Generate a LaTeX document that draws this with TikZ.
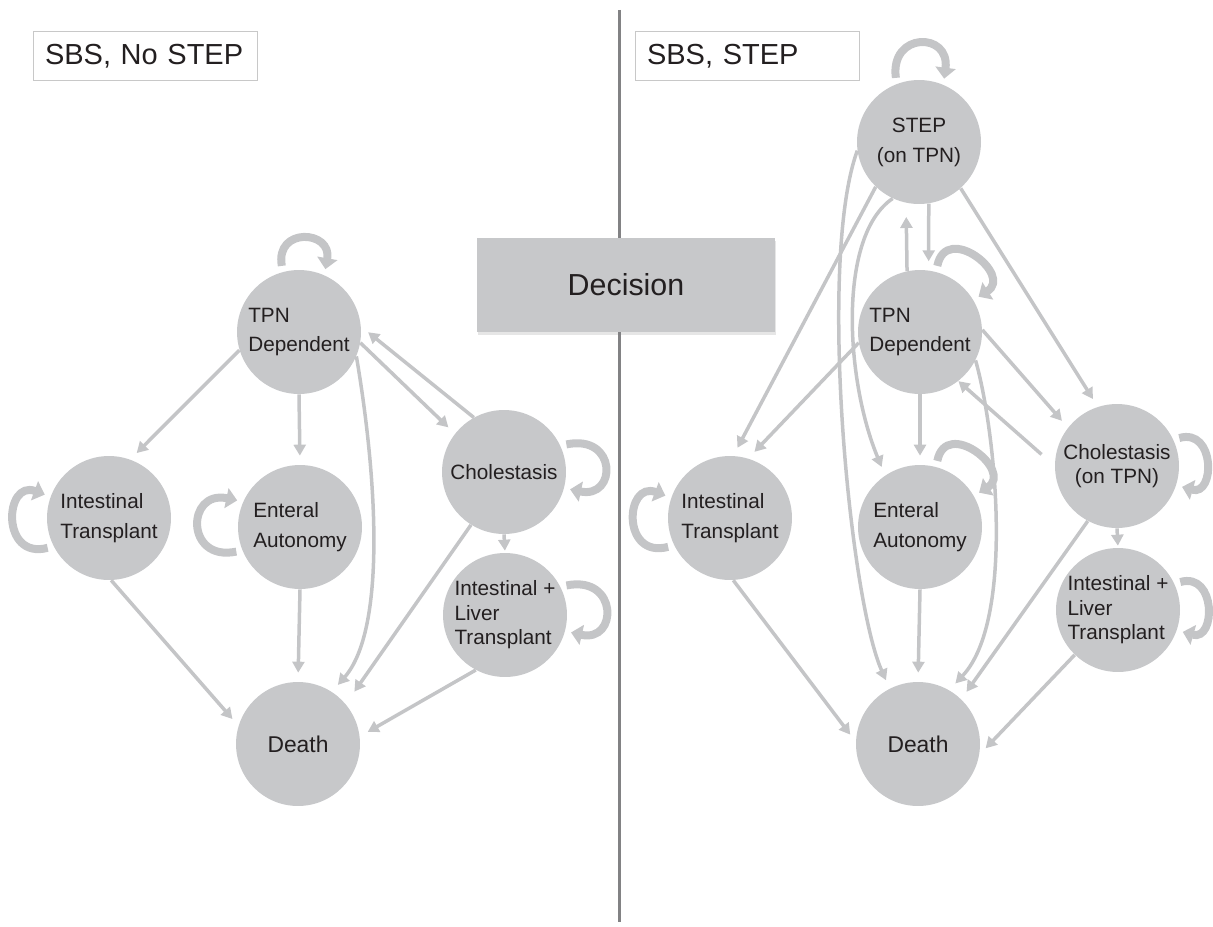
\documentclass[tikz,border=0pt]{standalone}
\usepackage{fontspec}
\setmainfont{Liberation Sans}
\usepackage{tikz}
\usetikzlibrary{arrows.meta}
\usetikzlibrary{shadows}

\definecolor{stategray}{RGB}{199,200,202}
\definecolor{arcgray}{RGB}{196,197,199}
\definecolor{splitgray}{RGB}{130,130,132}
\definecolor{framegray}{RGB}{200,200,200}
\definecolor{inkgray}{RGB}{35,31,32}

\begin{document}
\begin{tikzpicture}[x=0.02cm, y=-0.02cm,
  state/.style={circle, fill=stategray, minimum size=2.48cm, inner sep=0pt, align=left, text=inkgray, font=\fontsize{11.8}{17}\selectfont},
  tight/.style={font=\fontsize{11.8}{14}\selectfont},
  edge/.style={draw=arcgray, line width=0.07cm, -{Triangle[length=0.22cm,width=0.24cm]}, shorten >=0.18cm},
  selfloop/.style={draw=arcgray, line width=0.16cm, -{Triangle[length=0.22cm,width=0.4cm]}, shorten <=0.12cm, shorten >=0.12cm},
  panel/.style={rectangle, draw=framegray, line width=0.02cm, minimum width=4.5cm, minimum height=1cm, inner xsep=0.24cm, text width=4.02cm, align=left, text=inkgray, font=\fontsize{16.5}{20}\selectfont}]
\useasboundingbox (0,0) rectangle (1213,926);

\coordinate (SplitTop) at (619,10);
\coordinate (SplitBot) at (619,922);
\draw [splitgray, line width=0.06cm] (SplitTop) -- (SplitBot);

\node (L1) at (145.5,56) [panel] {SBS, No STEP};
\node (L2) at (747.5,56) [panel] {SBS, STEP};
\node (Dec) at (626,285) [rectangle, fill=stategray, minimum width=5.96cm, minimum height=1.88cm, text=inkgray, font=\fontsize{17.3}{20}\selectfont, drop shadow={opacity=0.2, shadow xshift=0.5pt, shadow yshift=-1.5pt}] {Decision};

% no STEP
\node (TPN1) at (299,332) [state] {TPN\\Dependent};
\node (IT1) at (109,518) [state] {Intestinal\\Transplant};
\node (EA1) at (300,527) [state] {Enteral\\Autonomy};
\node (CH1) at (504,472) [state] {Cholestasis};
\node (ILT1) at (505,615) [state, tight] {Intestinal +\\Liver\\Transplant};
\node (D1) at (298,744) [state, font=\fontsize{13}{16}\selectfont] {Death};

% STEP
\node (STEP2) at (919,142) [state, align=center] {STEP\\(on TPN)};
\node (TPN2) at (920,332) [state] {TPN\\Dependent};
\node (IT2) at (730,518) [state] {Intestinal\\Transplant};
\node (EA2) at (920,527) [state] {Enteral\\Autonomy};
\node (CH2) at (1117,466) [state, tight, align=center] {Cholestasis\\(on TPN)};
\node (ILT2) at (1118,610) [state, tight] {Intestinal +\\Liver\\Transplant};
\node (D2) at (918,744) [state, font=\fontsize{13}{16}\selectfont] {Death};

\draw [edge] (TPN1.197) -- (IT1.70);
\draw [edge] (TPN1.south) -- (EA1.north);
\draw [edge] (TPN1.337) .. controls +(21,123) and +(54,-62) .. (D1.57);
\draw [edge] (TPN1.350) -- (CH1.142);
\draw [edge] (CH1.119) -- (TPN1.5);
\draw [edge, shorten >=0.04cm] (CH1.south) -- (ILT1.north);
\draw [edge, shorten >=0.3cm] (CH1.238) -- (D1.40);
\draw [edge] (ILT1.242) -- (D1.7);
\draw [edge] (IT1.272) -- (D1.163);
\draw [edge] (EA1.south) -- (D1.north);

\draw [selfloop] (TPN1.105) .. controls +(-8,-45) and +(8,-45) .. (TPN1.66);
\draw [selfloop] (IT1.207) .. controls +(-53,14) and +(-46,-17) .. (IT1.160);
\draw [selfloop] (EA1.202) .. controls +(-57,12) and +(-57,-12) .. (EA1.156);
\draw [selfloop] (CH1.25) .. controls +(57,-12) and +(53,11) .. (CH1.345);
\draw [selfloop] (ILT1.27) .. controls +(58,-12) and +(53,12) .. (ILT1.345);

\draw [edge] (STEP2.279) -- (TPN2.82);
\draw [edge, shorten >=0.28cm] (TPN2.102) -- (STEP2.258);
\draw [edge] (STEP2.226) -- (IT2.87);
\draw [edge] (TPN2.190) -- (IT2.73);
\draw [edge] (STEP2.188) .. controls +(-40,110) and +(-40,-89) .. (D2.117);
\draw [edge] (STEP2.245) .. controls +(-55,37) and +(-40,-96) .. (EA2.124);
\draw [edge] (TPN2.south) -- (EA2.north);
\draw [edge] (TPN2.2) -- (CH2.142);
\draw [edge] (STEP2.312) -- (CH2.108);
\draw [edge, shorten <=0.35cm, shorten >=0cm] (CH2.180) -- (TPN2.308);
\draw [edge] (TPN2.333) .. controls +(20,70) and +(66,-70) .. (D2.60);
\draw [edge] (CH2.242) -- (D2.46);
\draw [edge, shorten >=0.04cm] (CH2.south) -- (ILT2.north);
\draw [edge] (ILT2.226) -- (D2.350);
\draw [edge] (IT2.273) -- (D2.178);
\draw [edge] (EA2.south) -- (D2.north);

\draw [selfloop] (STEP2.111) .. controls +(-7,-52) and +(7,-53) .. (STEP2.67);
\draw [selfloop] (TPN2.75) .. controls +(10,-50) and +(40,-25) .. (TPN2.31);
\draw [selfloop] (IT2.206) .. controls +(-53,14) and +(-46,-17) .. (IT2.161);
\draw [selfloop] (EA2.75) .. controls +(10,-50) and +(40,-25) .. (EA2.30);
\draw [selfloop] (CH2.25) .. controls +(42,-12) and +(39,11) .. (CH2.342);
\draw [selfloop] (ILT2.25) .. controls +(42,-12) and +(39,11) .. (ILT2.341);
\end{tikzpicture}
\end{document}
